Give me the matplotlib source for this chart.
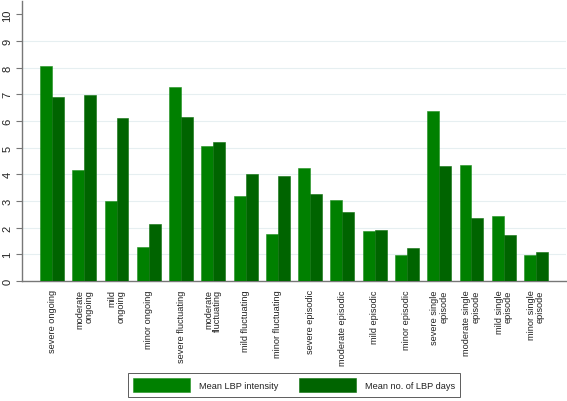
import matplotlib
matplotlib.use("Agg")
import matplotlib.pyplot as plt
import numpy as np

plt.rcParams['font.family'] = ['Liberation Sans', 'DejaVu Sans']

categories = [
    "severe ongoing", "moderate\nongoing", "mild\nongoing", "minor ongoing",
    "severe fluctuating", "moderate\nfluctuating", "mild fluctuating", "minor fluctuating",
    "severe episodic", "moderate episodic", "mild episodic", "minor episodic",
    "severe single\nepisode", "moderate single\nepisode", "mild single\nepisode", "minor single\nepisode",
]
intensity = [8.05, 4.16, 2.99, 1.27, 7.28, 5.06, 3.20, 1.78,
             4.22, 3.02, 1.89, 0.99, 6.38, 4.36, 2.44, 0.99]
days = [6.89, 6.99, 6.13, 2.14, 6.15, 5.21, 4.02, 3.93,
        3.26, 2.57, 1.93, 1.22, 4.30, 2.36, 1.74, 1.07]
series_names = ["Mean LBP intensity", "Mean no. of LBP days"]
yticks = list(range(0, 11))

fig = plt.figure(figsize=(5.67, 4.02), dpi=100)
ax = fig.add_axes([22/567, 1-282/402, (566-22)/567, (282-2)/402])

x = np.arange(len(categories))
w = 0.37
c1, c2 = "#008000", "#006400"
b1 = ax.bar(x - w/2, intensity, width=w, color=c1, edgecolor="#1f8f1f", linewidth=0.4, zorder=3)
b2 = ax.bar(x + w/2, days, width=w, color=c2, edgecolor="#0c700c", linewidth=0.4, zorder=3)

ax.set_xlim(-0.93, len(categories) - 1 + 0.93)
ax.set_ylim(0, 10.5)
for v in yticks[1:-1]:
    ax.axhline(v, color="#e6eff1", linewidth=0.8, zorder=1)

ax.set_yticks(yticks)
ax.set_yticklabels([str(v) for v in yticks], rotation=90, va="center", fontsize=8, color="#222222")
ax.tick_params(axis="y", length=4, width=0.8, color="#777777", pad=3)
ax.set_xticks(x)
ax.set_xticklabels(categories, rotation=90, ha="center", va="top",
                   multialignment="right", fontsize=6.6, linespacing=1.0, color="#222222")
ax.tick_params(axis="x", length=0, pad=6)

for s in ["top", "right"]:
    ax.spines[s].set_visible(False)
for s in ["left", "bottom"]:
    ax.spines[s].set_color("#777777")
    ax.spines[s].set_linewidth(1.0)

leg = fig.legend([b1, b2], series_names, loc="center",
                 bbox_to_anchor=(294/567, 1-386/402), ncol=2, fontsize=6.6,
                 handlelength=6.2, handleheight=2.0, handletextpad=1.0,
                 columnspacing=2.3, borderpad=0.5, fancybox=False,
                 frameon=True, edgecolor="#333333", labelcolor="#222222")
leg.get_frame().set_linewidth(0.7)

fig.savefig("out.png", dpi=100)
